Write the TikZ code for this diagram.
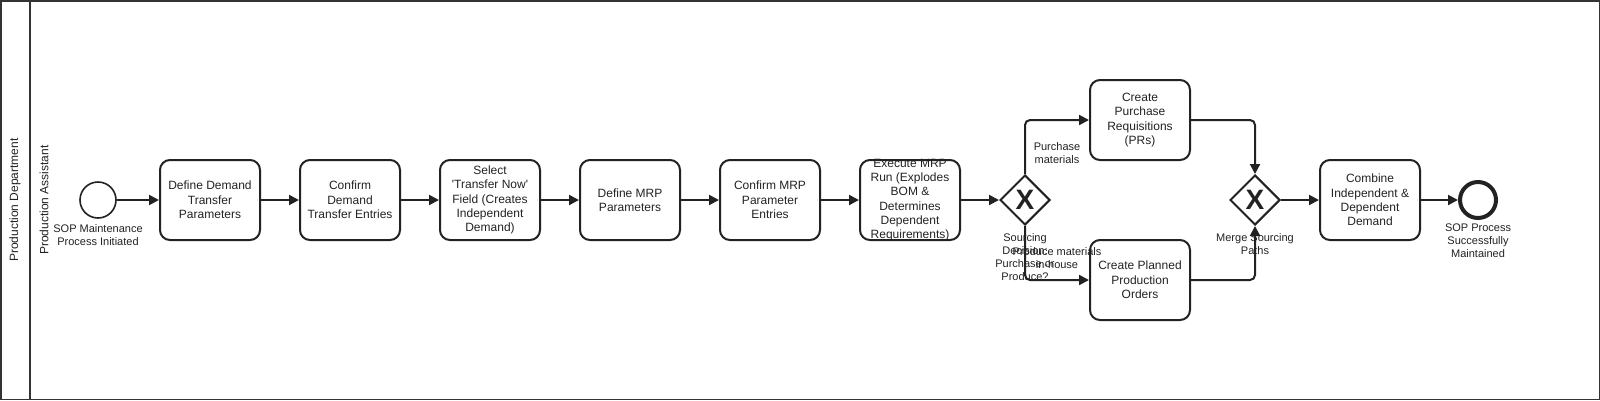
\documentclass[tikz,border=0pt]{standalone}
\usepackage{fontspec}
\setmainfont{Liberation Sans}
\usetikzlibrary{shapes.geometric,arrows.meta}
\definecolor{ink}{HTML}{222222}
\definecolor{framec}{HTML}{333333}
\tikzset{
  task/.style={draw=ink, line width=2pt, rounded corners=10pt, minimum width=100pt, minimum height=80pt, inner sep=2pt, align=center, text=ink, font=\fontsize{12}{14.3}\selectfont},
  flow/.style={draw=ink, line width=2pt, -{Triangle[length=10pt,width=10pt]}, rounded corners=5pt},
  gate/.style={diamond, draw=ink, line width=2pt, minimum width=50pt, minimum height=50pt, inner sep=0pt, text=ink, font=\fontsize{28}{28}\bfseries\selectfont},
  startev/.style={circle, draw=ink, line width=1.6pt, minimum size=36pt, inner sep=0pt},
  endev/.style={circle, draw=ink, line width=4pt, minimum size=36pt, inner sep=0pt},
  lbl/.style={align=center, text=ink, inner sep=0pt, font=\fontsize{11}{13}\selectfont},
  lanelbl/.style={rotate=90, text=ink, inner sep=0pt, font=\fontsize{12}{14}\selectfont},
  framebox/.style={draw=framec, line width=1.5pt}
}
\begin{document}
\begin{tikzpicture}[x=1pt,y=-1pt]
\useasboundingbox (0,0) rectangle (1600,400);
% pool frame
\draw[framebox] (0.75,0.75) rectangle (1599.25,399.25);
\coordinate (sepTop) at (30,0.75);
\coordinate (sepBot) at (30,399.25);
\draw[framebox] (sepTop) -- (sepBot);
\node[lanelbl] (pool) at (15,200) {Production Department};
\node[lanelbl] (lane) at (44,200) {Production Assistant};

% nodes
\node[startev] (start) at (98,200) {};
\node[lbl, anchor=north] (startl) at (98,224) {SOP Maintenance\\Process Initiated};
\node[task] (t1) at (210,200) {Define Demand\\Transfer\\Parameters};
\node[task] (t2) at (350,200) {Confirm\\Demand\\Transfer Entries};
\node[task] (t3) at (490,200) {Select\\\textquotesingle Transfer Now\textquotesingle\\Field (Creates\\Independent\\Demand)};
\node[task] (t4) at (630,200) {Define MRP\\Parameters};
\node[task] (t5) at (770,200) {Confirm MRP\\Parameter\\Entries};
\node[task, inner ysep=-6pt] (t6) at (910,200) {Execute MRP\\Run (Explodes\\BOM \&\\Determines\\Dependent\\Requirements)};
\node[gate] (g1) at (1025,200) {X};
\node[lbl, anchor=north] (g1l) at (1025,233) {Sourcing\\Decision:\\Purchase or\\Produce?};
\node[task] (pr) at (1140,120) {Create\\Purchase\\Requisitions\\(PRs)};
\node[task] (po) at (1140,280) {Create Planned\\Production\\Orders};
\node[gate] (g2) at (1255,200) {X};
\node[lbl, anchor=north] (g2l) at (1255,233) {Merge Sourcing\\Paths};
\node[task] (comb) at (1370,200) {Combine\\Independent \&\\Dependent\\Demand};
\node[endev] (end) at (1478,200) {};
\node[lbl, anchor=north] (endl) at (1478,224) {SOP Process\\Successfully\\Maintained};

% flows
\draw[flow] (start) -- (t1);
\draw[flow] (t1) -- (t2);
\draw[flow] (t2) -- (t3);
\draw[flow] (t3) -- (t4);
\draw[flow] (t4) -- (t5);
\draw[flow] (t5) -- (t6);
\draw[flow] (t6) -- (g1);
\draw[flow] (g1.north) |- (pr.west);
\draw[flow] (g1.south) |- (po.west);
\draw[flow] (pr.east) -| (g2.north);
\draw[flow] (po.east) -| (g2.south);
\draw[flow] (g2) -- (comb);
\draw[flow] (comb) -- (end);

% flow labels
\node[lbl] (purl) at (1057,153) {Purchase\\materials};
\node[lbl] (prodl) at (1057,258) {Produce materials\\in-house};
\end{tikzpicture}
\end{document}
